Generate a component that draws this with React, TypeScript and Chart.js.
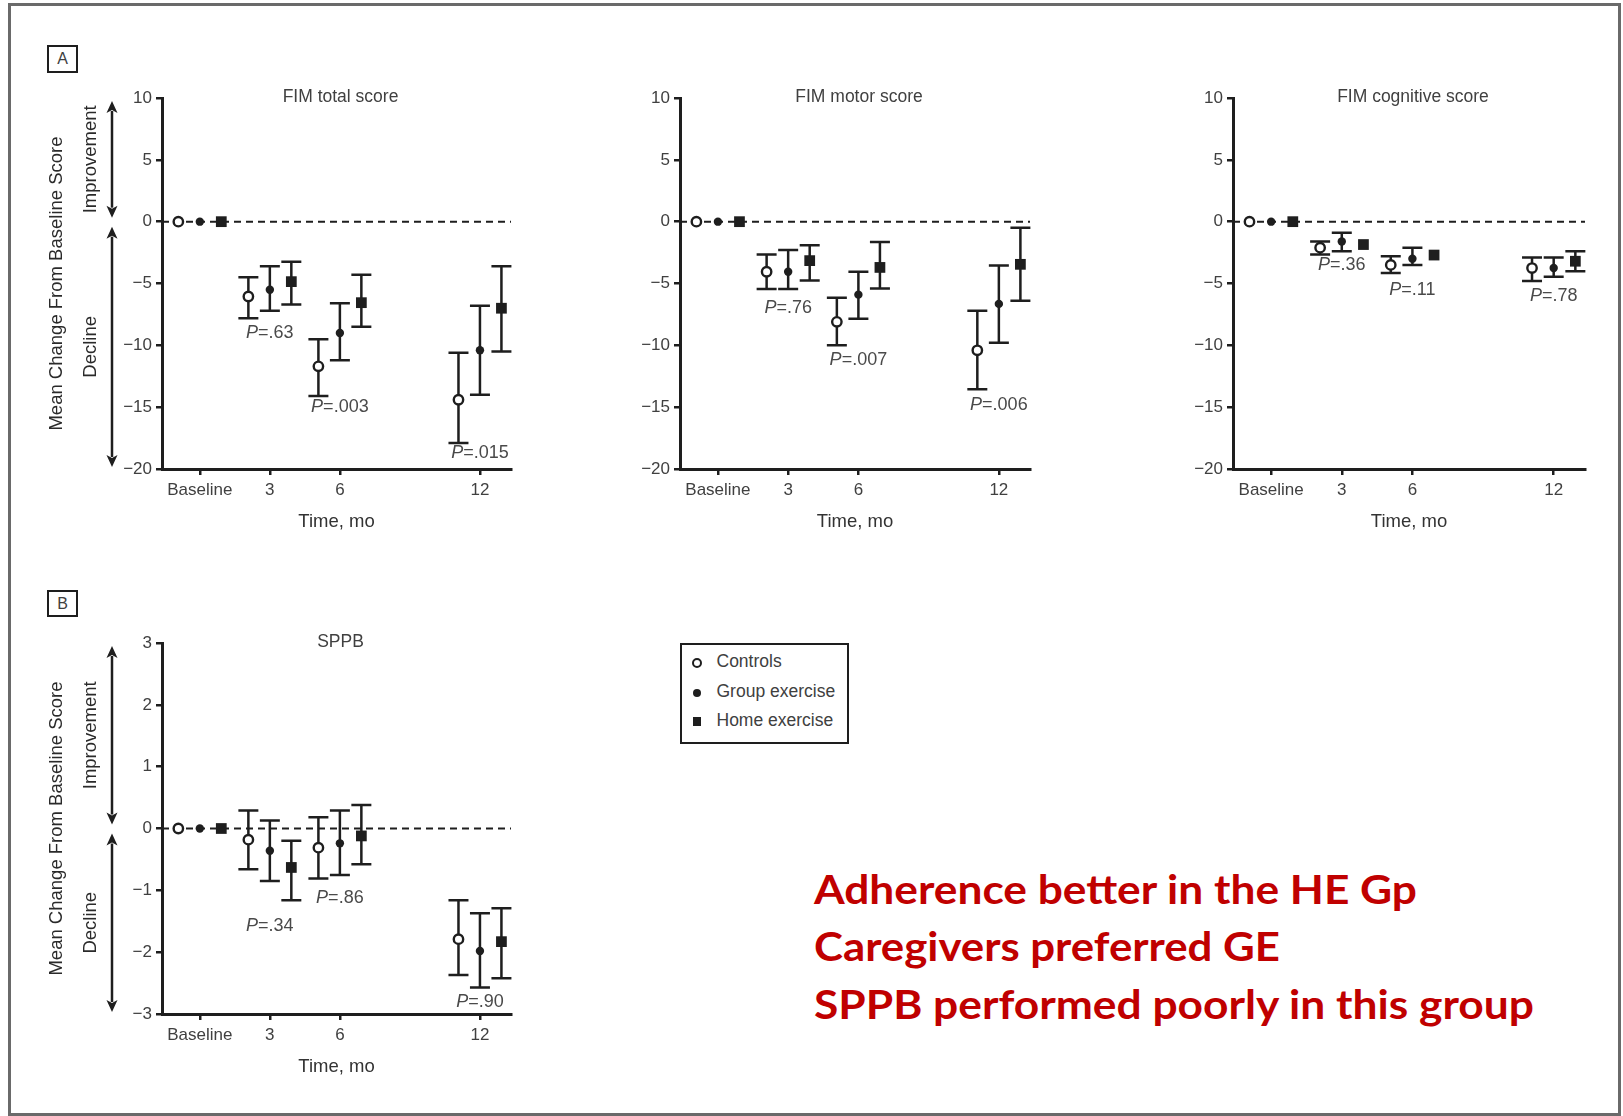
import React, { useEffect, useLayoutEffect, useRef } from 'react';
import { Chart, registerables } from 'chart.js';

Chart.register(...registerables);

// ---------------- data ----------------
const months = [0, 3, 6, 12];
const monthLabels = ['Baseline', '3', '6', '12'];
const groupNames = ['Controls', 'Group exercise', 'Home exercise'];
const pMonths = [3, 6, 12];

// rows: Controls, Group exercise, Home exercise ; columns: Baseline, 3, 6, 12 mo
const totalMean = [[0, -6.05, -11.7, -14.4], [0, -5.5, -9.0, -10.4], [0, -4.85, -6.55, -7.0]];
const totalLow = [[0, -7.8, -14.1, -17.9], [0, -7.2, -11.2, -14.0], [0, -6.7, -8.5, -10.5]];
const totalHigh = [[0, -4.5, -9.5, -10.6], [0, -3.6, -6.6, -6.8], [0, -3.25, -4.3, -3.6]];
const totalP = ['.63', '.003', '.015'];
const totalPY = [-9.0, -15.0, -18.7];

const motorMean = [[0, -4.05, -8.1, -10.4], [0, -4.05, -5.9, -6.65], [0, -3.15, -3.7, -3.45]];
const motorLow = [[0, -5.45, -10.0, -13.55], [0, -5.45, -7.85, -9.8], [0, -4.75, -5.4, -6.4]];
const motorHigh = [[0, -2.65, -6.15, -7.2], [0, -2.3, -4.05, -3.55], [0, -1.9, -1.65, -0.5]];
const motorP = ['.76', '.007', '.006'];
const motorPY = [-6.95, -11.15, -14.8];

const cogMean = [[0, -2.1, -3.5, -3.75], [0, -1.6, -3.0, -3.75], [0, -1.85, -2.7, -3.2]];
const cogLow = [[0, -2.65, -4.15, -4.8], [0, -2.4, -3.5, -4.45], [0, -1.85, -2.7, -4.0]];
const cogHigh = [[0, -1.6, -2.8, -2.9], [0, -0.9, -2.1, -2.9], [0, -1.85, -2.7, -2.4]];
const cogP = ['.36', '.11', '.78'];
const cogPY = [-3.5, -5.5, -6.05];

const sppbMean = [[0, -0.18, -0.31, -1.79], [0, -0.36, -0.24, -1.98], [0, -0.63, -0.12, -1.83]];
const sppbLow = [[0, -0.66, -0.81, -2.37], [0, -0.85, -0.75, -2.57], [0, -1.16, -0.58, -2.42]];
const sppbHigh = [[0, 0.29, 0.18, -1.16], [0, 0.13, 0.29, -1.37], [0, -0.2, 0.38, -1.29]];
const sppbP = ['.34', '.86', '.90'];
const sppbPY = [-1.57, -1.13, -2.81];

const notes = ['Adherence better in the HE Gp', 'Caregivers preferred GE', 'SPPB performed poorly in this group'];

// ---------------- style ----------------
const FONT = "'Liberation Sans', Arimo, Arial, sans-serif";
const INK = '#1e1e1e';
const TEXT = '#404040';
const X_MIN = -1.62;
const X_MAX = 13.33;
const OFFSETS = [-0.92, 0, 0.92];
const markerStyle = ['circle', 'circle', 'rect'];
const markerRadius = [4.7, 4.2, 7.6];
const markerFill = ['#ffffff', INK, INK];
const markerBorder = [2.4, 0, 0];

type Spec = {
  title: string;
  mean: number[][];
  low: number[][];
  high: number[][];
  pValues: string[];
  pY: number[];
  yMin: number;
  yMax: number;
  yStep: number;
  sideLabels: boolean;
  box: { left: number; top: number; width: number; height: number };
  area: { left: number; right: number; top: number; bottom: number };
  timePad: number;
};

const panels: Spec[] = [
  {
    title: 'FIM total score', mean: totalMean, low: totalLow, high: totalHigh, pValues: totalP, pY: totalPY,
    yMin: -20, yMax: 10, yStep: 5, sideLabels: true,
    box: { left: 0, top: 30, width: 540, height: 520 },
    area: { left: 162, right: 511, top: 68, bottom: 439 }, timePad: 17,
  },
  {
    title: 'FIM motor score', mean: motorMean, low: motorLow, high: motorHigh, pValues: motorP, pY: motorPY,
    yMin: -20, yMax: 10, yStep: 5, sideLabels: false,
    box: { left: 540, top: 30, width: 540, height: 520 },
    area: { left: 140, right: 490, top: 68, bottom: 439 }, timePad: 17,
  },
  {
    title: 'FIM cognitive score', mean: cogMean, low: cogLow, high: cogHigh, pValues: cogP, pY: cogPY,
    yMin: -20, yMax: 10, yStep: 5, sideLabels: false,
    box: { left: 1080, top: 30, width: 540, height: 520 },
    area: { left: 153, right: 505, top: 68, bottom: 439 }, timePad: 17,
  },
  {
    title: 'SPPB', mean: sppbMean, low: sppbLow, high: sppbHigh, pValues: sppbP, pY: sppbPY,
    yMin: -3, yMax: 3, yStep: 1, sideLabels: true,
    box: { left: 0, top: 560, width: 540, height: 520 },
    area: { left: 162, right: 511, top: 83, bottom: 454 }, timePad: 2,
  },
];

function fmt(v: number) {
  return v < 0 ? '\u2212' + Math.abs(v) : String(v);
}

function drawDoubleArrow(ctx: CanvasRenderingContext2D, x: number, y1: number, y2: number) {
  const hl = 12, hw = 5.5;
  ctx.beginPath();
  ctx.moveTo(x, y1 + hl - 2);
  ctx.lineTo(x, y2 - hl + 2);
  ctx.stroke();
  ctx.beginPath();
  ctx.moveTo(x, y1);
  ctx.lineTo(x - hw, y1 + hl);
  ctx.lineTo(x, y1 + hl - 3);
  ctx.lineTo(x + hw, y1 + hl);
  ctx.closePath();
  ctx.fill();
  ctx.beginPath();
  ctx.moveTo(x, y2);
  ctx.lineTo(x - hw, y2 - hl);
  ctx.lineTo(x, y2 - hl + 3);
  ctx.lineTo(x + hw, y2 - hl);
  ctx.closePath();
  ctx.fill();
}

function rotatedText(ctx: CanvasRenderingContext2D, text: string, x: number, y: number) {
  ctx.save();
  ctx.translate(x, y);
  ctx.rotate(-Math.PI / 2);
  ctx.textAlign = 'center';
  ctx.textBaseline = 'middle';
  ctx.fillText(text, 0, 0);
  ctx.restore();
}

function Panel({ spec }: { spec: Spec }) {
  const ref = useRef<HTMLCanvasElement>(null);
  useEffect(() => {
    const canvas = ref.current!;
    const { box, area } = spec;

    const overlay = {
      id: 'overlay',
      beforeDatasetsDraw(chart: any) {
        const ctx: CanvasRenderingContext2D = chart.ctx;
        const xs = chart.scales.x, ys = chart.scales.y;
        ctx.save();
        ctx.strokeStyle = INK;
        ctx.lineWidth = 2.5;
        const cap = 10;
        groupNames.forEach((_, g) => {
          months.forEach((m, i) => {
            const lo = spec.low[g][i], hi = spec.high[g][i];
            if (lo === hi) return;
            const x = xs.getPixelForValue(m + OFFSETS[g]);
            const yl = ys.getPixelForValue(lo), yh = ys.getPixelForValue(hi);
            ctx.beginPath();
            ctx.moveTo(x, yl); ctx.lineTo(x, yh);
            ctx.moveTo(x - cap, yl); ctx.lineTo(x + cap, yl);
            ctx.moveTo(x - cap, yh); ctx.lineTo(x + cap, yh);
            ctx.stroke();
          });
        });
        ctx.restore();
      },
      afterDraw(chart: any) {
        const ctx: CanvasRenderingContext2D = chart.ctx;
        const ca = chart.chartArea;
        const xs = chart.scales.x, ys = chart.scales.y;
        ctx.save();
        // panel title
        ctx.fillStyle = TEXT;
        ctx.font = `17.5px ${FONT}`;
        ctx.textAlign = 'center';
        ctx.textBaseline = 'middle';
        ctx.fillText(spec.title, (ca.left + ca.right) / 2 + 4, ca.top - 1);
        // P values
        spec.pValues.forEach((pv, i) => {
          const cx = xs.getPixelForValue(pMonths[i]);
          const cy = ys.getPixelForValue(spec.pY[i]);
          ctx.font = `italic 18px ${FONT}`;
          const wP = ctx.measureText('P').width;
          ctx.font = `18px ${FONT}`;
          const rest = '=' + pv;
          const wR = ctx.measureText(rest).width;
          const x0 = cx - (wP + wR) / 2;
          ctx.textAlign = 'left';
          ctx.fillStyle = '#4a4a4a';
          ctx.font = `italic 18px ${FONT}`;
          ctx.fillText('P', x0, cy);
          ctx.font = `18px ${FONT}`;
          ctx.fillText(rest, x0 + wP, cy);
        });
        // side labels and arrows
        if (spec.sideLabels) {
          const y0 = ys.getPixelForValue(0);
          const impTop = ca.top + 3, impBot = y0 - 4;
          const decTop = y0 + 5, decBot = ca.bottom - 2;
          ctx.fillStyle = INK;
          ctx.strokeStyle = INK;
          ctx.lineWidth = 2.5;
          drawDoubleArrow(ctx, ca.left - 50, impTop, impBot);
          drawDoubleArrow(ctx, ca.left - 50, decTop, decBot);
          ctx.fillStyle = '#2a2a2a';
          ctx.font = `18.5px ${FONT}`;
          rotatedText(ctx, 'Mean Change From Baseline Score', ca.left - 105, (ca.top + ca.bottom) / 2);
          rotatedText(ctx, 'Improvement', ca.left - 71, (impTop + impBot) / 2);
          rotatedText(ctx, 'Decline', ca.left - 71, (decTop + decBot) / 2);
        }
        ctx.restore();
      },
    };

    const datasets: any[] = [
      {
        type: 'line',
        label: 'zero',
        data: [{ x: X_MIN, y: 0 }, { x: X_MAX, y: 0 }],
        borderColor: INK,
        borderWidth: 2,
        borderDash: [7, 5],
        pointRadius: 0,
        fill: false,
        order: 5,
      },
      ...groupNames.map((name, g) => ({
        type: 'scatter',
        label: name,
        data: months.map((m, i) => ({ x: m + OFFSETS[g], y: spec.mean[g][i] })),
        pointStyle: markerStyle[g],
        pointRadius: markerRadius[g],
        pointBackgroundColor: markerFill[g],
        pointBorderColor: INK,
        pointBorderWidth: markerBorder[g],
        order: 1,
      })),
    ];

    const chart = new Chart(canvas, {
      type: 'scatter',
      data: { datasets },
      plugins: [overlay as any],
      options: {
        animation: false,
        responsive: false,
        devicePixelRatio: 1,
        events: [],
        layout: {
          padding: { left: 0, top: area.top, right: box.width - area.right, bottom: 0 },
        },
        plugins: { legend: { display: false }, tooltip: { enabled: false }, title: { display: false } },
        scales: {
          x: {
            type: 'linear',
            min: X_MIN,
            max: X_MAX,
            afterBuildTicks: (s: any) => { s.ticks = months.map((v) => ({ value: v })); },
            afterFit: (s: any) => { s.height = box.height - area.bottom; },
            ticks: {
              callback: (_v: any, i: number) => monthLabels[i],
              autoSkip: false,
              maxRotation: 0,
              padding: 5,
              color: TEXT,
              font: { family: FONT, size: 17 },
            },
            grid: { drawOnChartArea: false, drawTicks: true, tickLength: 6, color: INK, lineWidth: 2.5 },
            border: { display: true, color: INK, width: 3 },
            title: {
              display: true,
              text: 'Time, mo',
              color: '#333',
              font: { family: FONT, size: 18.5 },
              padding: { top: 0, bottom: spec.timePad },
            },
          },
          y: {
            type: 'linear',
            min: spec.yMin,
            max: spec.yMax,
            afterFit: (s: any) => { s.width = area.left; },
            ticks: {
              stepSize: spec.yStep,
              callback: (v: any) => fmt(Number(v)),
              padding: 4,
              color: TEXT,
              font: { family: FONT, size: 17 },
            },
            grid: { drawOnChartArea: false, drawTicks: true, tickLength: 6, color: INK, lineWidth: 2.5 },
            border: { display: true, color: INK, width: 3 },
          },
        },
      } as any,
    });
    return () => chart.destroy();
  }, [spec]);

  return (
    <canvas
      ref={ref}
      width={spec.box.width}
      height={spec.box.height}
      style={{ position: 'absolute', left: spec.box.left, top: spec.box.top, width: spec.box.width, height: spec.box.height }}
    />
  );
}

function FitText({ text, left, baseline, width }: { text: string; left: number; baseline: number; width: number }) {
  const ref = useRef<HTMLDivElement>(null);
  useLayoutEffect(() => {
    const el = ref.current!;
    el.style.transform = 'none';
    const w = el.getBoundingClientRect().width;
    if (w > 0) el.style.transform = `scaleX(${width / w})`;
  }, [text, width]);
  const size = 41;
  const top = baseline - (size - 1.2 * size) / 2 - 0.987 * size;
  return (
    <div
      ref={ref}
      style={{
        position: 'absolute', left, top, whiteSpace: 'nowrap', transformOrigin: 'left top',
        font: `bold ${size}px Lato, 'Open Sans', sans-serif`, lineHeight: `${size}px`, color: '#C00000',
      }}
    >
      {text}
    </div>
  );
}

function PanelTag({ label, left, top, height }: { label: string; left: number; top: number; height: number }) {
  return (
    <div
      style={{
        position: 'absolute', left, top, width: 31, height, boxSizing: 'border-box',
        border: `2.5px solid ${INK}`, font: `16px ${FONT}`, color: TEXT,
        display: 'flex', alignItems: 'center', justifyContent: 'center',
      }}
    >
      {label}
    </div>
  );
}

function Legend() {
  const rows = [663, 693, 722];
  const marker = (g: number): React.CSSProperties => {
    if (g === 0) return { width: 10, height: 10, borderRadius: '50%', border: `2.5px solid ${INK}`, boxSizing: 'border-box', background: '#fff' };
    if (g === 1) return { width: 8, height: 8, borderRadius: '50%', background: INK };
    return { width: 8, height: 9, background: INK };
  };
  return (
    <div style={{ position: 'absolute', left: 680, top: 643, width: 169, height: 101, boxSizing: 'border-box', border: `2.5px solid ${INK}` }}>
      {groupNames.map((name, g) => {
        const m = marker(g);
        const w = Number(m.width), h = Number(m.height);
        return (
          <React.Fragment key={name}>
            <div style={{ position: 'absolute', left: 17 - w / 2 - 2.5, top: rows[g] - 643 - h / 2 - 2.5, ...m }} />
            <div style={{ position: 'absolute', left: 37 - 2.5, top: rows[g] - 643 - 12 - 2.5, height: 24, lineHeight: '24px', font: `17.5px ${FONT}`, color: TEXT, whiteSpace: 'nowrap' }}>
              {name}
            </div>
          </React.Fragment>
        );
      })}
    </div>
  );
}

export default function App() {
  const noteWidths = [603, 466, 720];
  const noteBaselines = [904, 961.5, 1019];
  return (
    <div style={{ position: 'fixed', left: 0, top: 0, width: 1623, height: 1116, background: '#fff', overflow: 'hidden' }}>
      <div style={{ position: 'absolute', left: 8, top: 3, width: 1613, height: 1113, boxSizing: 'border-box', border: '3px solid #6a6a6a' }} />
      <PanelTag label="A" left={47} top={45} height={28} />
      <PanelTag label="B" left={47} top={590} height={27} />
      {panels.map((p) => (
        <Panel key={p.title} spec={p} />
      ))}
      <Legend />
      {notes.map((t, i) => (
        <FitText key={t} text={t} left={814} baseline={noteBaselines[i]} width={noteWidths[i]} />
      ))}
    </div>
  );
}
